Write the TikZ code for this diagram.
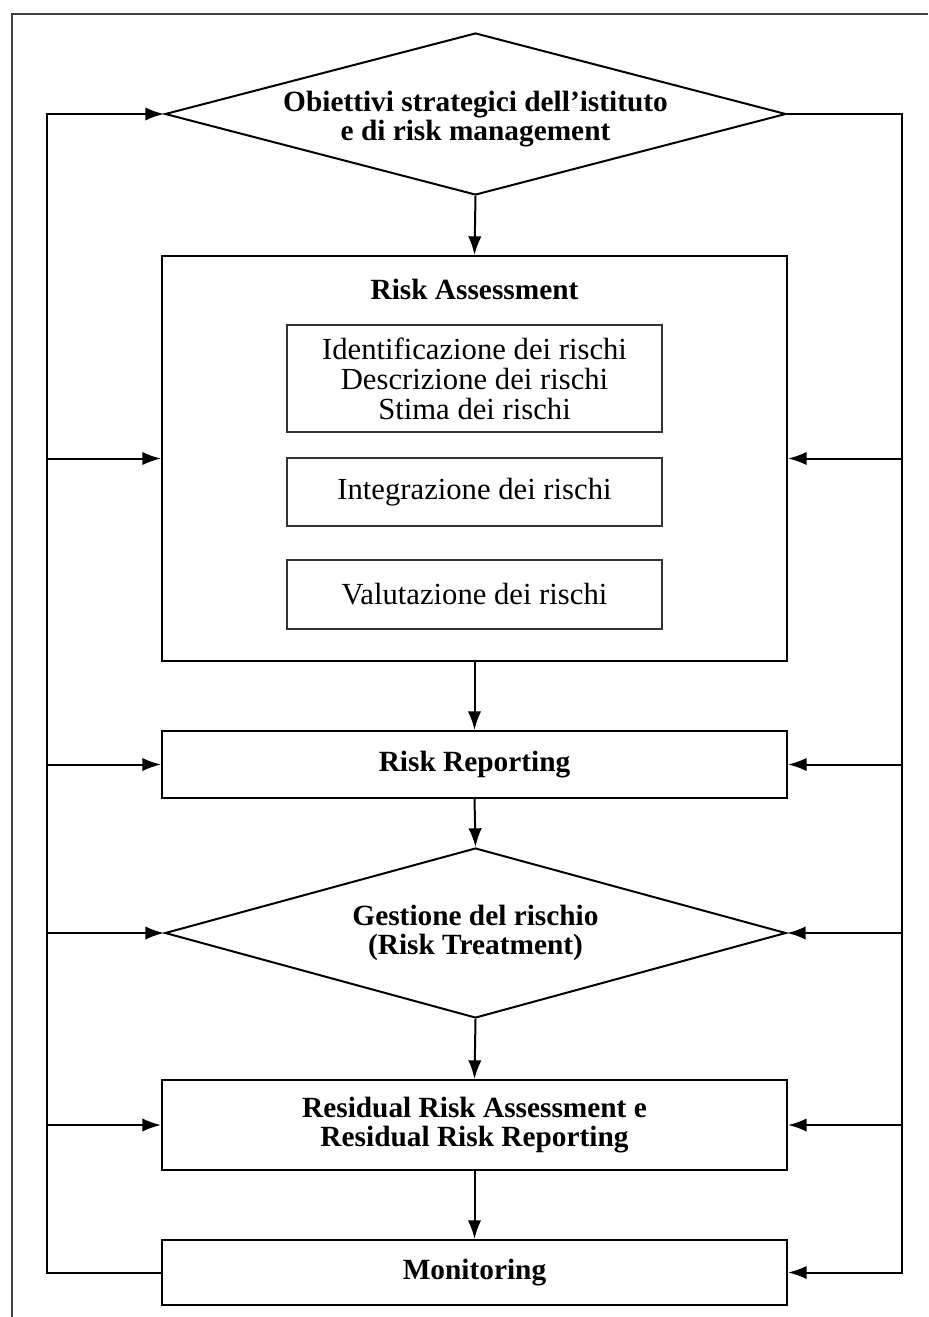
\documentclass[tikz,border=0pt]{standalone}
\usepackage{fontspec}
\setmainfont{Liberation Serif}
\usetikzlibrary{shapes.geometric,arrows.meta,positioning}
\begin{document}
\begin{tikzpicture}
    [%%%%%%%%%%%%%%%%%%%%%%%%%%%%%%
        x=0.75pt, y=-0.75pt,
        box/.style={rectangle,draw=black,line width=1.5pt,minimum width=468.75pt,align=center,font=\fontsize{22}{22}\selectfont\bfseries},
        inbox/.style={rectangle,draw=black!80,line width=1.2pt,minimum width=281.25pt,align=center,font=\fontsize{23}{22.5}\selectfont},
        dia/.style={diamond,draw=black,line width=1.5pt,minimum width=465.75pt,aspect=3.8,inner sep=0pt,align=center,font=\fontsize{22}{22}\selectfont\bfseries},
        dialabel/.style={align=center,inner sep=0pt,font=\fontsize{22}{22}\selectfont\bfseries},
        arr/.style={line width=1.5pt,-{Latex[length=14pt,width=10pt]}},
    ]%%%%%%%%%%%%%%%%%%%%%%%%%%%%%%
    \useasboundingbox (0,0) rectangle (928,1317);
    \draw[line width=1.8pt,black!75] (12,1317) -- (12,14) -- (928,14);

    \node[dia, minimum height=121.5pt, label={[dialabel,yshift=-4pt]center:Obiettivi strategici dell’istituto\\e di risk management}] (obj) at (475.5,114) {};

    \node[box, minimum height=303.75pt] (ra) at (474.5,458.5) {};
    \node[font=\fontsize{22}{22}\selectfont\bfseries] (ratitle) at (474.5,289) {Risk Assessment};
    \node[inbox, minimum height=80.25pt] (ident) at (474.5,378.5) {Identificazione dei rischi\\Descrizione dei rischi\\Stima dei rischi};
    \node[inbox, minimum height=51pt] (integr) at (474.5,492) {Integrazione dei rischi};
    \node[inbox, minimum height=51.75pt] (valut) at (474.5,594.5) {Valutazione dei rischi};

    \node[box, minimum height=50.25pt] (rr) at (474.5,764.5) {Risk Reporting};
    \node[dia, minimum height=127.5pt] (gest) at (475.5,933) {Gestione del rischio\\(Risk Treatment)};
    \node[box, minimum height=67.5pt] (res) at (474.5,1125) {Residual Risk Assessment e\\Residual Risk Reporting};
    \node[box, minimum height=48.75pt] (mon) at (474.5,1272.5) {Monitoring};

    \coordinate (railL) at (47,0);
    \coordinate (railR) at (902,0);

    % main flow
    \draw[arr] (obj.south) -- (ra.north);
    \draw[arr] (ra.south) -- (rr.north);
    \draw[arr] (rr.south) -- (gest.north);
    \draw[arr] (gest.south) -- (res.north);
    \draw[arr] (res.south) -- (mon.north);

    % feedback rails
    \draw[arr] (mon.west) -- (mon.west -| railL) -- (obj.west -| railL) -- (obj.west);
    \draw[arr] (obj.east) -- (obj.east -| railR) -- (mon.east -| railR) -- (mon.east);
    \foreach \n in {ra,rr,gest,res} {
        \draw[arr] (\n.west -| railL) -- (\n.west);
        \draw[arr] (\n.east -| railR) -- (\n.east);
    }
\end{tikzpicture}
\end{document}
